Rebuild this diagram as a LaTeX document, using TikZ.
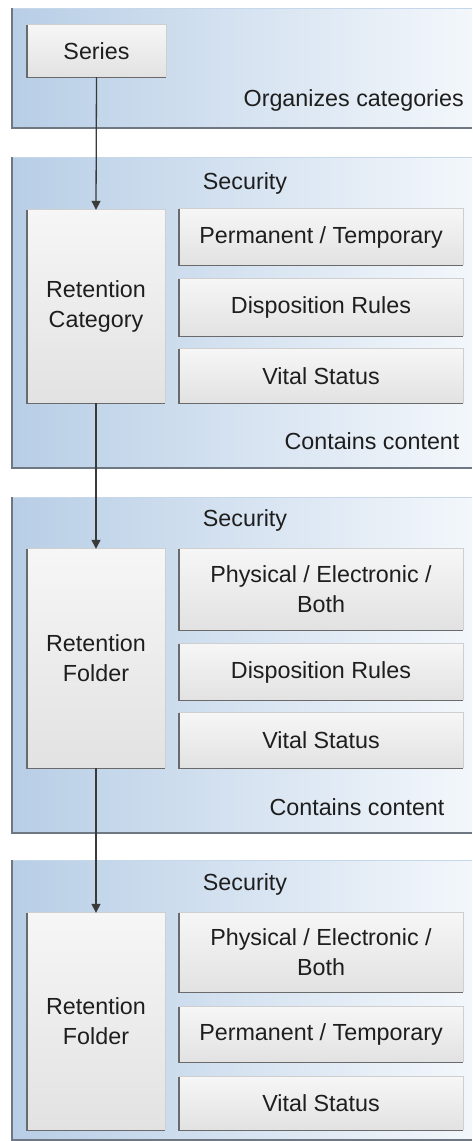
\documentclass[tikz,border=0pt]{standalone}
\usepackage{fontspec}
\setmainfont{Liberation Sans}
\usetikzlibrary{arrows.meta}
\definecolor{panelL}{HTML}{B8CEE6}
\definecolor{panelR}{HTML}{F3F7FB}
\definecolor{panelEdge}{HTML}{6E7782}
\definecolor{panelTop}{HTML}{C6D7EA}
\definecolor{boxTop}{HTML}{F6F6F6}
\definecolor{boxBot}{HTML}{E2E2E2}
\definecolor{boxDark}{HTML}{6A6A6A}
\definecolor{boxLight}{HTML}{CFCFCF}
\definecolor{txt}{HTML}{1E1E1E}
\definecolor{arrowc}{HTML}{3A3A3A}
\begin{document}
\begin{tikzpicture}[x=1pt,y=-1pt,
  panel/.style={left color=panelL, right color=panelR, draw=none},
  panelline/.style={draw=panelEdge, line width=1.3pt},
  paneltopline/.style={draw=panelTop, line width=1pt},
  box/.style={top color=boxTop, bottom color=boxBot, draw=none, inner sep=0pt,
    align=center, text=txt, font=\fontsize{23.3}{30}\selectfont},
  label/.style={inner sep=0pt, text=txt, font=\fontsize{23.3}{30}\selectfont},
  darkedge/.style={draw=boxDark, line width=1.4pt},
  lightedge/.style={draw=boxLight, line width=0.8pt},
  conn/.style={draw=arrowc, line width=1.3pt, -{Triangle[width=9pt,length=9pt]}}
]
\useasboundingbox (0,0) rectangle (472,1141);
% panels
\foreach \t/\b in {8/128, 157/468, 497/833, 860/1140}{
  \path[panel] (12,\t) rectangle (472,\b);
  \draw[paneltopline] (12,\t) -- (472,\t);
  \draw[panelline] (12,\t) -- (12,\b) -- (472,\b);
}
% panel 1
\node[box, minimum width=139pt, minimum height=52pt] (series) at (96.5,51) {Series};
\node[label, anchor=east] (org) at (464,100) {Organizes categories};
% panel 2
\node[label] (sec1) at (245,183) {Security};
\node[box, minimum width=138pt, minimum height=193pt] (rc) at (96,306.5) {Retention\\Category};
\node[box, minimum width=284pt, minimum height=56pt] (pt1) at (321,237) {Permanent / Temporary};
\node[box, minimum width=284pt, minimum height=57pt] (dr1) at (321,307.5) {Disposition Rules};
\node[box, minimum width=284pt, minimum height=54pt] (vs1) at (321,376) {Vital Status};
\node[label] (cc1) at (372,441) {Contains content};
% panel 3
\node[label] (sec2) at (245,520) {Security};
\node[box, minimum width=138pt, minimum height=219pt] (rf1) at (96,658.5) {Retention\\Folder};
\node[box, minimum width=284pt, minimum height=81pt] (pe1) at (321,589.5) {Physical / Electronic /\\Both};
\node[box, minimum width=284pt, minimum height=56pt] (dr2) at (321,672) {Disposition Rules};
\node[box, minimum width=284pt, minimum height=55pt] (vs2) at (321,740.5) {Vital Status};
\node[label] (cc2) at (357,807) {Contains content};
% panel 4
\node[label] (sec3) at (245,884) {Security};
\node[box, minimum width=138pt, minimum height=217pt] (rf2) at (96,1021.5) {Retention\\Folder};
\node[box, minimum width=284pt, minimum height=79pt] (pe2) at (321,952.5) {Physical / Electronic /\\Both};
\node[box, minimum width=284pt, minimum height=55pt] (pt2) at (321,1034.5) {Permanent / Temporary};
\node[box, minimum width=284pt, minimum height=53pt] (vs3) at (321,1103.5) {Vital Status};
% box edges
\foreach \n in {series,rc,pt1,dr1,vs1,rf1,pe1,dr2,vs2,rf2,pe2,pt2,vs3}{
  \draw[lightedge] (\n.north west) -- (\n.north east) -- (\n.south east);
  \draw[darkedge] (\n.north west) -- (\n.south west) -- (\n.south east);
}
% connectors
\draw[conn] (series.south) -- (rc.north);
\draw[conn] (rc.south) -- (rf1.north);
\draw[conn] (rf1.south) -- (rf2.north);
\end{tikzpicture}
\end{document}
